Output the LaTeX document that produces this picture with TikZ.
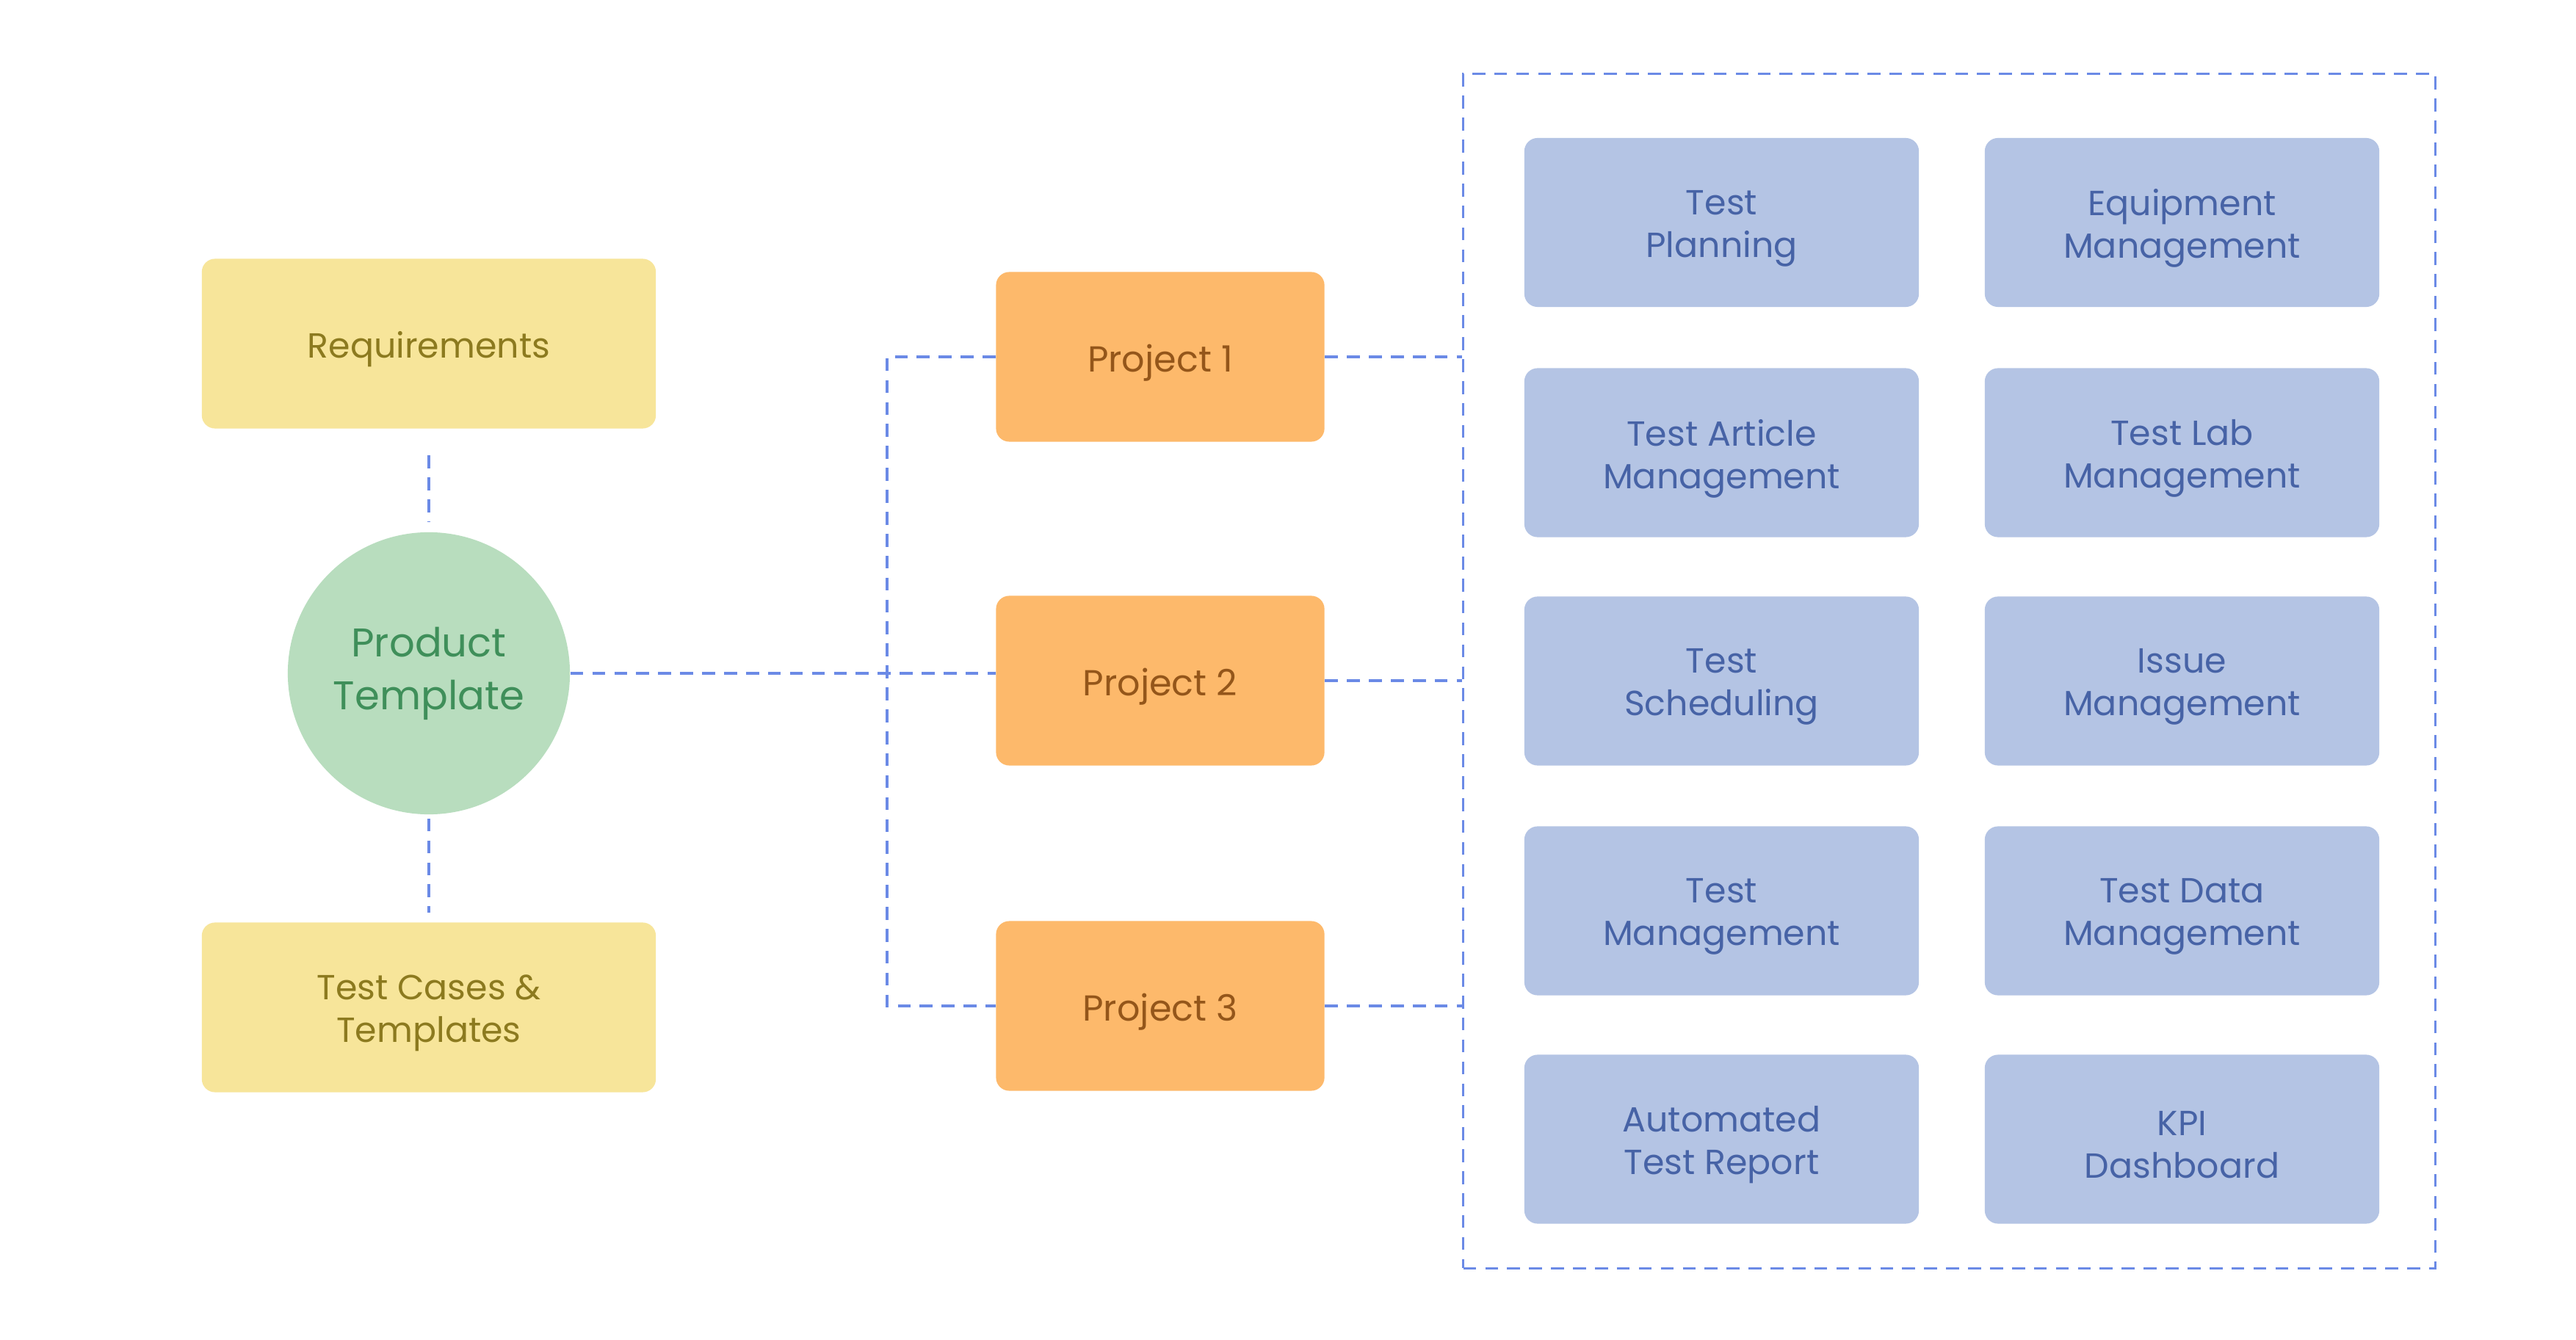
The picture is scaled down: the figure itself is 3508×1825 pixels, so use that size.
\documentclass[tikz,border=0pt]{standalone}
\usepackage{fontspec}
\setmainfont{Poppins}
\definecolor{yelfill}{HTML}{F7E59A}
\definecolor{yeltext}{HTML}{8C7A1F}
\definecolor{grnfill}{HTML}{B8DDBE}
\definecolor{grntext}{HTML}{3F8F5A}
\definecolor{orgfill}{HTML}{FDB96B}
\definecolor{orgtext}{HTML}{94561A}
\definecolor{blufill}{HTML}{B4C4E4}
\definecolor{blutext}{HTML}{4763A6}
\definecolor{dashcol}{HTML}{6B8AE6}
\tikzset{
  box/.style={rounded corners=0.18cm, inner sep=0pt},
  txt/.style={align=center, inner sep=0pt, yshift=-0.08cm},
  yelbox/.style={box, fill=yelfill, minimum width=6.18cm, minimum height=2.31cm,
    label={[txt, text=yeltext, font=\fontsize{13.5}{16.5}\selectfont]center:{#1}}},
  orgbox/.style={box, fill=orgfill, minimum width=4.47cm, minimum height=2.31cm,
    label={[txt, text=orgtext, font=\fontsize{14}{16.5}\selectfont]center:{#1}}},
  blubox/.style={box, fill=blufill, minimum width=5.37cm, minimum height=2.30cm,
    label={[txt, text=blutext, font=\fontsize{13.5}{16.5}\selectfont]center:{#1}}},
  ptcircle/.style={circle, fill=grnfill, text=grntext, minimum size=3.84cm, inner sep=0pt,
    align=center, font=\fontsize{15.5}{20.5}\selectfont},
  dashline/.style={draw=dashcol, line width=0.9pt, dash pattern=on 5pt off 3.5pt},
  container/.style={draw=dashcol, line width=0.9pt, dash pattern=on 5pt off 3.5pt,
    minimum width=13.23cm, minimum height=16.26cm, inner sep=0pt}
}
\begin{document}
\begin{tikzpicture}[x=0.01cm,y=-0.01cm]
\useasboundingbox (0,0) rectangle (3508,1825);
\fill[white] (0,0) rectangle (3508,1825);

\node[container] (cont) at (2654.5,914) {};

\node[yelbox={Requirements}] (req) at (584,468) {};
\node[yelbox={Test Cases \&\\Templates}] (tc) at (584,1372) {};
\node[ptcircle] (pt) at (584,917) {Product\\Template};

\node[orgbox={Project 1}] (p1) at (1580,486) {};
\node[orgbox={Project 2}] (p2) at (1580,927) {};
\node[orgbox={Project 3}] (p3) at (1580,1370) {};

\node[blubox={Test\\Planning}] (b11) at (2344.5,303) {};
\node[blubox={Equipment\\Management}] (b12) at (2971.5,303) {};
\node[blubox={Test Article\\Management}] (b21) at (2344.5,616.5) {};
\node[blubox={Test Lab\\Management}] (b22) at (2971.5,616.5) {};
\node[blubox={Test\\Scheduling}] (b31) at (2344.5,927.5) {};
\node[blubox={Issue\\Management}] (b32) at (2971.5,927.5) {};
\node[blubox={Test\\Management}] (b41) at (2344.5,1240.5) {};
\node[blubox={Test Data\\Management}] (b42) at (2971.5,1240.5) {};
\node[blubox={Automated\\Test Report}] (b51) at (2344.5,1551.5) {};
\node[blubox={KPI\\Dashboard}] (b52) at (2971.5,1551.5) {};

\coordinate (jl) at (1208,917);

\draw[dashline, shorten <=0.36cm, shorten >=0.14cm] (req) -- (pt);
\draw[dashline, shorten <=0.05cm, shorten >=0.13cm] (pt) -- (tc);
\draw[dashline] (pt.east) -- (pt.east -| p2.west);
\draw[dashline] (p1.west) -- (p1.west -| jl) -- (p3.west -| jl) -- (p3.west);
\draw[dashline] (p1.east) -- (p1.east -| cont.west);
\draw[dashline] (p2.east) -- (p2.east -| cont.west);
\draw[dashline] (p3.east) -- (p3.east -| cont.west);
\end{tikzpicture}
\end{document}
